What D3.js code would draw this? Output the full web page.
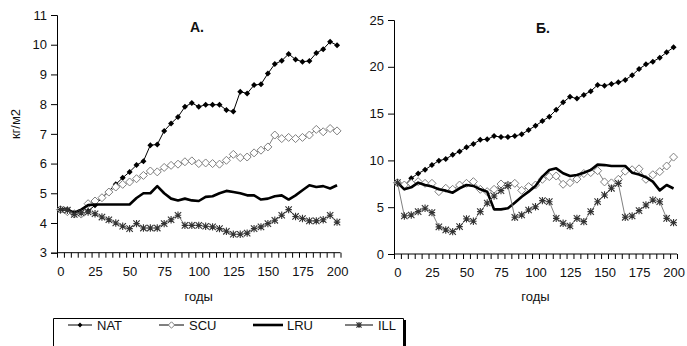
<!DOCTYPE html>
<html><head><meta charset="utf-8">
<script src="https://cdn.jsdelivr.net/npm/d3@7"></script>
<style>
html,body{margin:0;padding:0;background:#fff;}
svg text{font-family:"Liberation Sans Narrow","Arial Narrow","Liberation Sans",Arial,sans-serif;fill:#111;}
</style></head>
<body>
<svg id="c" width="687" height="346"></svg>
<script>
// ---- data ----
const years = d3.range(0, 201, 5);
const xTickLabels = [0, 25, 50, 75, 100, 125, 150, 175, 200];
const yTicksA = [3, 4, 5, 6, 7, 8, 9, 10, 11];
const yTicksB = [0, 5, 10, 15, 20, 25];
const seriesNames = ["NAT", "SCU", "LRU", "ILL"];

const natA = [4.45,4.45,4.35,4.3,4.4,4.6,4.85,5.08,5.3,5.52,5.72,5.95,6.08,6.62,6.64,7.1,7.35,7.57,7.91,8.04,7.91,7.98,7.98,7.98,7.8,7.75,8.42,8.36,8.64,8.67,9.03,9.35,9.46,9.69,9.5,9.43,9.45,9.72,9.85,10.1,9.98];
const scuA = [4.45,4.38,4.3,4.3,4.65,4.74,4.85,5.04,5.21,5.3,5.38,5.49,5.6,5.75,5.72,5.87,5.94,5.98,6.06,6.09,6.0,6.02,6.0,5.98,6.11,6.31,6.2,6.22,6.36,6.45,6.56,6.96,6.84,6.88,6.84,6.88,6.96,7.15,7.07,7.18,7.1];
const lruA = [4.45,4.45,4.35,4.45,4.6,4.62,4.62,4.62,4.62,4.62,4.62,4.84,5.0,5.0,5.24,5.0,4.82,4.76,4.82,4.76,4.74,4.88,4.9,5.0,5.08,5.04,5.0,4.93,4.93,4.79,4.82,4.9,4.93,4.79,4.93,5.1,5.27,5.21,5.24,5.16,5.27];
const illA = [4.45,4.43,4.29,4.34,4.37,4.31,4.2,4.11,4.0,3.89,3.81,3.98,3.83,3.83,3.83,3.98,4.11,4.26,3.92,3.92,3.92,3.89,3.87,3.81,3.72,3.62,3.62,3.66,3.81,3.87,3.98,4.09,4.26,4.45,4.22,4.15,4.07,4.07,4.11,4.26,4.03];

const natB = [7.6,7.3,8.1,8.6,9.0,9.5,9.97,10.15,10.6,10.95,11.4,11.75,12.2,12.25,12.6,12.5,12.5,12.6,12.8,13.25,13.7,14.2,14.67,15.4,16.2,16.8,16.6,17.0,17.4,18.06,17.98,18.16,18.34,18.6,19.1,19.76,20.26,20.55,20.97,21.55,22.08];
const scuB = [7.62,7.37,7.55,7.73,7.55,7.55,6.66,7.02,6.91,7.37,7.55,7.73,6.91,6.66,6.91,7.48,7.37,7.55,6.8,7.2,7.37,7.98,8.27,8.33,7.45,7.62,8.0,8.6,8.7,8.9,7.7,7.6,7.98,8.85,9.0,9.1,7.98,8.47,8.8,9.4,10.35];
const lruB = [7.62,6.91,7.12,7.62,7.37,7.2,6.91,6.77,6.55,7.02,7.37,7.27,6.91,6.66,4.77,4.77,4.88,5.48,6.12,6.66,7.27,8.27,8.97,9.15,8.62,8.33,8.44,8.69,8.97,9.55,9.5,9.4,9.4,9.4,8.69,8.5,8.2,7.73,6.8,7.37,7.0];
const illB = [7.62,4.06,4.17,4.53,4.88,4.42,2.9,2.57,2.39,2.92,3.75,3.5,4.53,5.45,6.2,6.77,7.3,3.92,4.17,4.7,5.05,5.7,5.59,3.81,3.28,2.99,3.81,3.46,4.53,5.59,6.3,7.02,7.55,3.92,4.06,4.63,5.23,5.77,5.59,3.81,3.35];

// ---- drawing ----
const svg = d3.select("#c");

const styles = {
  NAT: {stroke:"#000", width:1, marker:"dfill"},
  SCU: {stroke:"#808080", width:1, marker:"dopen"},
  LRU: {stroke:"#000", width:2.6, marker:null},
  ILL: {stroke:"#808080", width:1, marker:"star"}
};

function drawMarker(g, type, cx, cy, scale) {
  const s = scale || 1;
  if (type === "dfill") {
    const r = 3 * s;
    g.append("path").attr("d", `M${cx},${cy-r}L${cx+r},${cy}L${cx},${cy+r}L${cx-r},${cy}Z`).attr("fill","#000");
  } else if (type === "dopen") {
    const r = 4 * s;
    g.append("path").attr("d", `M${cx},${cy-r}L${cx+r},${cy}L${cx},${cy+r}L${cx-r},${cy}Z`).attr("fill","#fff").attr("stroke","#808080").attr("stroke-width",1);
  } else if (type === "star") {
    const r = 3.2 * s;
    g.append("path").attr("d", `M${cx-r},${cy-r}L${cx+r},${cy+r}M${cx-r},${cy+r}L${cx+r},${cy-r}M${cx},${cy-r-0.5}L${cx},${cy+r+0.5}M${cx-r},${cy}L${cx+r},${cy}`).attr("stroke","#333").attr("stroke-width",1.1);
  }
}

function panel(cfg) {
  const x = d3.scaleLinear().domain([-2.5, 202.5]).range([cfg.x0, cfg.x1]);
  const y = d3.scaleLinear().domain(cfg.yDomain).range([cfg.yBottom, cfg.yTop]);
  const g = svg.append("g");

  // y axis
  const ya = g.append("g").attr("transform", `translate(${cfg.x0},0)`)
    .call(d3.axisLeft(y).tickValues(cfg.yTicks).tickSize(6).tickPadding(4));
  ya.select(".domain").attr("stroke","#000");
  ya.selectAll(".tick line").attr("stroke","#000");
  ya.selectAll("text").style("font-size","13px").attr("fill","#222");

  // x axis ticks (category boundaries)
  const xa = g.append("g").attr("transform", `translate(0,${cfg.yBottom})`)
    .call(d3.axisBottom(x).tickValues(d3.range(-2.5, 203, 5)).tickSize(5).tickFormat(""));
  xa.select(".domain").attr("stroke","#000").attr("d", `M${cfg.x0},0H${cfg.x1}`);
  xa.selectAll(".tick line").attr("stroke","#000");
  // x labels
  const xl = g.append("g").attr("transform", `translate(0,${cfg.yBottom})`)
    .call(d3.axisBottom(x).tickValues(xTickLabels).tickSize(0).tickPadding(14));
  xl.select(".domain").remove();
  xl.selectAll("text").style("font-size","13px").attr("fill","#222");

  const data = cfg.data;
  seriesNames.forEach((name, k) => {
    const st = styles[name];
    const vals = data[k];
    const line = d3.line().x((d, i) => x(years[i])).y(d => y(d));
    g.append("path").datum(vals).attr("d", line).attr("fill","none")
      .attr("stroke", st.stroke).attr("stroke-width", st.width).attr("stroke-linejoin","round");
    if (st.marker) {
      const mg = g.append("g");
      vals.forEach((v, i) => drawMarker(mg, st.marker, x(years[i]), y(v)));
    }
  });

  g.append("text").attr("x", cfg.titleX).attr("y", cfg.titleY).attr("text-anchor","middle")
    .style("font-size","14px").style("font-weight","bold").text(cfg.title);
  g.append("text").attr("x", (cfg.x0 + cfg.x1) / 2).attr("y", 301).attr("text-anchor","middle")
    .style("font-size","13px").text("годы");
}

panel({x0:57, x1:340.5, yTop:15, yBottom:252.7, yDomain:[3,11], yTicks:yTicksA,
  data:[natA, scuA, lruA, illA], title:"А.", titleX:197, titleY:32});
panel({x0:394, x1:677, yTop:20, yBottom:254, yDomain:[0,25], yTicks:yTicksB,
  data:[natB, scuB, lruB, illB], title:"Б.", titleX:543, titleY:33});

// y axis title
svg.append("text").attr("transform","translate(20,124) rotate(-90)").attr("text-anchor","middle")
  .style("font-size","13px").text("кг/м2");

// legend
const lg = svg.append("g");
lg.append("path").attr("d","M53.5,350V318.5H403.5V350").attr("fill","none").attr("stroke","#000").attr("stroke-width",1);
lg.append("line").attr("x1",405).attr("x2",405).attr("y1",320).attr("y2",350).attr("stroke","#000").attr("stroke-width",2);
const legItems = [
  {name:"NAT", x1:68, x2:92, tx:97},
  {name:"SCU", x1:159, x2:184, tx:189},
  {name:"LRU", x1:253, x2:283, tx:287},
  {name:"ILL", x1:345, x2:373, tx:378}
];
legItems.forEach(it => {
  const st = styles[it.name];
  const ly = 325;
  lg.append("line").attr("x1",it.x1).attr("x2",it.x2).attr("y1",ly).attr("y2",ly)
    .attr("stroke", st.stroke === "#808080" ? "#000" : st.stroke).attr("stroke-width", st.width);
  if (st.marker) drawMarker(lg, st.marker, (it.x1+it.x2)/2, ly, 0.8);
  lg.append("text").attr("x", it.tx).attr("y", ly + 4.5).style("font-size","13px").text(it.name);
});
</script>
</body></html>
